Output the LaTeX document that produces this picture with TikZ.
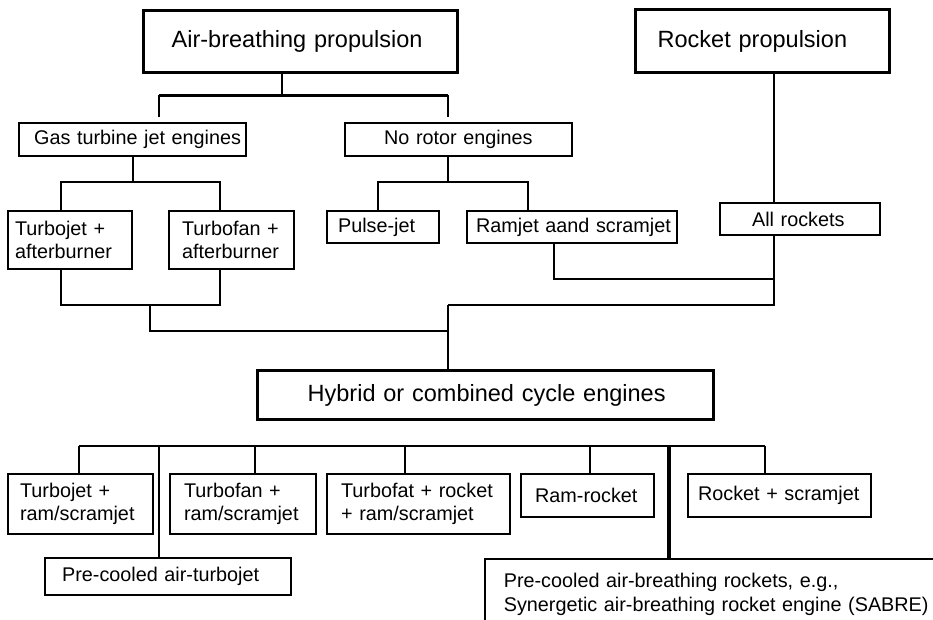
\documentclass[tikz,border=0pt]{standalone}
\usepackage{fontspec}
\setmainfont{Liberation Sans}
\begin{document}
\begin{tikzpicture}[x=1pt,y=-1pt,
  big/.style={draw, line width=3.4pt, rectangle, anchor=north west, align=left,
    inner xsep=0pt, inner ysep=0pt, font=\fontsize{23.5}{28}\selectfont},
  box/.style={draw, line width=2.2pt, rectangle, anchor=north west, align=left,
    inner xsep=0pt, inner ysep=0pt, font=\fontsize{19.8}{23.5}\selectfont},
  wh/.style 2 args={text width=#1pt, minimum height=#2pt},
  conn/.style={line width=2.3pt},
  busthick/.style={line width=3pt},
  thinconn/.style={line width=1.1pt},
  sabreconn/.style={line width=3.2pt}]
\fill[white] (0,0) rectangle (933,619);
\useasboundingbox (0,0) rectangle (933,619);
\clip (0,0) rectangle (933,619);

% top level
\node[big, wh={314}{62}] (air) at (142,9) {\hspace*{28pt}Air-breathing propulsion};
\node[big, wh={254}{63}] (rocket) at (634,8) {\hspace*{22pt}Rocket propulsion};

% second level
\node[box, wh={227}{33}] (gas) at (18,122) {\hspace*{15pt}Gas turbine jet engines};
\node[box, wh={227}{33}] (norotor) at (344,122) {\hspace*{39pt}No rotor engines};

% third level
\node[box, wh={124}{58}] (tjab) at (7,210) {\hspace*{7pt}Turbojet +\\\hspace*{7pt}afterburner};
\node[box, wh={125}{58}] (tfab) at (168,210) {\hspace*{13pt}Turbofan +\\\hspace*{13pt}afterburner};
\node[box, wh={112}{32}] (pulse) at (326,210) {\hspace*{11pt}Pulse-jet};
\node[box, wh={210}{32}] (ramjet) at (466,210) {\hspace*{9pt}Ramjet aand scramjet};
\node[box, wh={160}{32}] (allrockets) at (719,202) {\hspace*{32pt}All rockets};

% hybrid
\node[big, wh={456}{49}] (hybrid) at (256,369) {\hspace*{50pt}Hybrid or combined cycle engines};

% bottom level
\node[box, wh={145}{60}] (tjram) at (7,473) {\hspace*{12pt}Turbojet +\\\hspace*{12pt}ram/scramjet};
\node[box, wh={146}{60}] (tfram) at (169,473) {\hspace*{14pt}Turbofan +\\\hspace*{14pt}ram/scramjet};
\node[box, wh={183}{60}] (tfat) at (326,473) {\hspace*{14pt}Turbofat + rocket\\\hspace*{14pt}+ ram/scramjet};
\node[box, wh={133}{43}] (ramrocket) at (520,473) {\hspace*{14pt}Ram-rocket};
\node[box, wh={183}{43}] (rocketscram) at (687,473) {\hspace*{10pt}Rocket + scramjet};
\node[box, wh={246}{37}] (precooled) at (44,557) {\hspace*{17pt}Pre-cooled air-turbojet};
\node[box, line width=1.6pt, wh={600}{71}] (sabre) at (484,558) {\hspace*{19pt}Pre-cooled air-breathing rockets, e.g.,\\\hspace*{19pt}Synergetic air-breathing rocket engine (SABRE)};

% air-breathing tree
\coordinate (a1) at (282,95);
\coordinate (a2) at (159,95);
\coordinate (a3) at (448,95);
\draw[conn] (air.south -| a1) -- (a1);
\draw[busthick] (a2) -- (a3);
\draw[conn, shorten >=5pt] (a2) -- (gas.north -| a2);
\draw[conn, shorten >=5pt] (a3) -- (norotor.north -| a3);

% gas turbine
\coordinate (g1) at (133,182);
\coordinate (g2) at (61,182);
\coordinate (g3) at (220,182);
\draw[thinconn] (gas.south -| g1) -- (g1);
\draw[conn] (tjab.north -| g2) -- (g2) -- (g3) -- (tfab.north -| g3);

% no rotor
\coordinate (n1) at (448,182);
\coordinate (n2) at (378,182);
\coordinate (n3) at (528,182);
\draw[conn] (norotor.south -| n1) -- (n1);
\draw[conn] (pulse.north -| n2) -- (n2) -- (n3) -- (ramjet.north -| n3);

% rocket
\coordinate (r1) at (774,305);
\coordinate (m1) at (448,305);
\draw[conn] (rocket.south -| r1) -- (allrockets.north -| r1);
\draw[conn] (allrockets.south -| r1) -- (r1) -- (m1);
\coordinate (rj1) at (554,279);
\coordinate (rj2) at (774,279);
\draw[conn] (ramjet.south -| rj1) -- (rj1) -- (rj2);

% turbo merge
\coordinate (t1) at (61,305);
\coordinate (t2) at (220,305);
\coordinate (t3) at (150,305);
\coordinate (t4) at (150,331);
\coordinate (m2) at (448,331);
\draw[conn] (tjab.south -| t1) -- (t1) -- (t2) -- (tfab.south -| t2);
\draw[conn] (t3) -- (t4) -- (m2);
\draw[conn] (m1) -- (hybrid.north -| m1);

% bottom bus
\coordinate (h1) at (79,446);
\coordinate (h7) at (765,446);
\draw[conn] (h1) -- (h7);
\foreach \n/\x in {tjram/79, precooled/159, tfram/255, tfat/405, ramrocket/590, rocketscram/765}{
  \coordinate (d\n) at (\x,446);
  \draw[conn] (d\n) -- (\n.north -| d\n);
}
\coordinate (dsabre) at (669,446);
\draw[sabreconn] (dsabre) -- (sabre.north -| dsabre);
\end{tikzpicture}
\end{document}
